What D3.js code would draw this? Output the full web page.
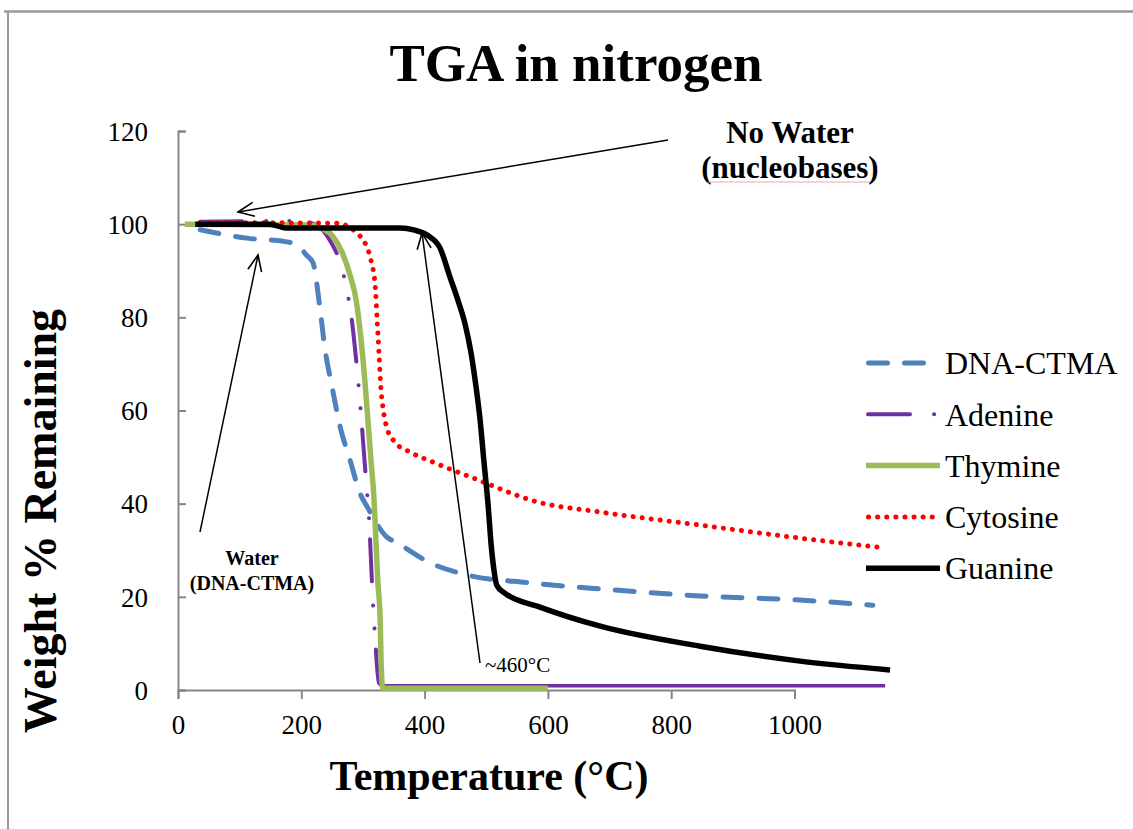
<!DOCTYPE html>
<head>
    <meta charset='utf-8'>
    <title>TGA in nitrogen</title>
    <script src='https://d3js.org/d3.v7.min.js'></script>
    <style>
        html, body {
            margin: 0px;
            padding: 0px;
            background: white;
        }
        svg text {
            font-family: 'Liberation Serif', 'Times New Roman', serif;
        }
    </style>
</head>

<body>
    <div id='chart'></div>

    <script>
        // temperature (°C) / weight % pairs
        var dnaT = [36, 112, 177, 198, 208, 219, 230, 238, 250, 263, 279, 295, 307, 339, 355, 409, 469, 571, 685, 847, 1009, 1127];
        var dnaW = [98.8, 97.0, 96.2, 95.0, 93.4, 91.7, 82.2, 73.6, 65.0, 56.5, 49.4, 42.3, 39.3, 32.8, 31.6, 27.3, 24.7, 23.0, 21.7, 20.2, 19.3, 18.2];

        var adeT = [36, 198, 227, 246, 263, 274, 282, 289, 295, 300, 305, 310, 313, 316, 320, 323, 326, 332, 1147];
        var adeW = [100.5, 100.7, 99.6, 96.6, 91.7, 85.9, 79.4, 70.8, 62.3, 53.7, 45.1, 36.5, 27.9, 19.3, 10.7, 4.7, 1.5, 0.9, 0.9];

        var thyT = [11, 214, 234, 251, 266, 279, 289, 297, 303, 308, 313, 318, 321, 324, 328, 329, 332, 600];
        var thyW = [100.0, 99.8, 99.1, 97.4, 94.0, 89.1, 83.7, 75.1, 66.6, 58.0, 49.4, 40.8, 32.2, 23.6, 15.0, 8.6, 0.4, 0.4];

        var cytT = [36, 96, 258, 282, 295, 305, 313, 320, 323, 326, 329, 333, 339, 352, 376, 414, 479, 582, 685, 847, 1009, 1147];
        var cytW = [100.3, 100.3, 100.2, 99.0, 97.5, 95.5, 92.3, 86.5, 79.4, 72.3, 65.0, 60.1, 56.2, 53.2, 51.1, 48.9, 45.5, 40.4, 38.2, 35.4, 32.6, 30.5];

        var guaT = [28, 149, 174, 360, 384, 406, 425, 441, 454, 466, 475, 483, 490, 496, 503, 508, 513, 517, 530, 587, 685, 847, 1009, 1155];
        var guaW = [100.0, 100.0, 99.2, 99.2, 98.7, 97.5, 94.9, 88.7, 83.7, 78.4, 72.6, 65.5, 58.0, 49.4, 39.7, 31.1, 25.3, 22.5, 20.8, 17.8, 13.7, 9.4, 6.2, 4.3];

        var seriesNames = ['DNA-CTMA', 'Adenine', 'Thymine', 'Cytosine', 'Guanine'];
        var xTicks = [0, 200, 400, 600, 800, 1000];
        var yTicks = [0, 20, 40, 60, 80, 100, 120];

        var styles = {
            'DNA-CTMA': {color: '#4F81BD', width: 5, dash: '19,17', cap: 'round'},
            'Adenine':  {color: '#7030A0', width: 4, dash: '42,24,0.1,23,0.1,21', cap: 'round'},
            'Thymine':  {color: '#9BBB59', width: 5.5, dash: null, cap: 'butt'},
            'Cytosine': {color: '#FF0000', width: 5, dash: '0.1,9', cap: 'round'},
            'Guanine':  {color: '#000000', width: 5.5, dash: null, cap: 'butt'}
        };

        var series = [
            {name: seriesNames[0], t: dnaT, w: dnaW},
            {name: seriesNames[1], t: adeT, w: adeW},
            {name: seriesNames[2], t: thyT, w: thyW},
            {name: seriesNames[3], t: cytT, w: cytW},
            {name: seriesNames[4], t: guaT, w: guaW}
        ];

        var W = 1133, H = 829;
        var svg = d3.select('#chart').append('svg')
            .attr('width', W)
            .attr('height', H);

        // outer frame (only top and left edges are in view)
        svg.append('line').attr('x1', 4).attr('y1', 11.5).attr('x2', W).attr('y2', 11.5)
            .attr('stroke', '#999').attr('stroke-width', 2.5);
        svg.append('line').attr('x1', 8).attr('y1', 11).attr('x2', 8).attr('y2', H)
            .attr('stroke', '#999').attr('stroke-width', 2);

        var x = d3.scaleLinear().domain([0, 1000]).range([178, 794.5]);
        var y = d3.scaleLinear().domain([0, 120]).range([690, 131]);

        // axes
        var xAxis = svg.append('g')
            .attr('transform', 'translate(0,690)')
            .call(d3.axisBottom(x).tickValues(xTicks).tickSize(9).tickPadding(15).tickFormat(d3.format('d')));
        var yAxis = svg.append('g')
            .attr('transform', 'translate(178,0)')
            .call(d3.axisLeft(y).tickValues(yTicks).tickSize(-8).tickPadding(30).tickFormat(d3.format('d')));

        [xAxis, yAxis].forEach(function(g) {
            g.select('.domain').attr('stroke', '#868686').attr('stroke-width', 2);
            g.selectAll('.tick line').attr('stroke', '#868686').attr('stroke-width', 2);
            g.selectAll('.tick text')
                .attr('fill', '#000')
                .style('font-family', "'Liberation Serif', serif")
                .style('font-size', '27px');
        });
        xAxis.selectAll('.tick text').attr('dy', '0.75em');
        yAxis.selectAll('.tick text').attr('dy', '0.34em');

        // curves
        var line = d3.line()
            .x(function(d) { return x(d[0]); })
            .y(function(d) { return y(d[1]); })
            .curve(d3.curveMonotoneX);

        function pts(s) { return d3.zip(s.t, s.w); }

        svg.selectAll('path.series')
            .data(series)
            .enter()
            .append('path')
            .attr('class', 'series')
            .attr('fill', 'none')
            .attr('d', function(s) {
                var p = pts(s);
                // adenine: the flat residue tail is drawn solid below
                if (s.name === 'Adenine') p = p.slice(0, p.length - 1);
                return line(p);
            })
            .attr('stroke', function(s) { return styles[s.name].color; })
            .attr('stroke-width', function(s) { return styles[s.name].width; })
            .attr('stroke-dasharray', function(s) { return styles[s.name].dash; })
            .attr('stroke-linecap', function(s) { return styles[s.name].cap; })
            .attr('stroke-linejoin', 'round');

        // adenine residue tail (looks solid in the picture)
        svg.insert('path', 'path.series:nth-of-type(3)')
            .attr('fill', 'none')
            .attr('d', d3.line()
                .x(function(d) { return x(d[0]); })
                .y(function(d) { return y(d[1]); })(pts(series[1]).slice(-2)))
            .attr('stroke', styles['Adenine'].color)
            .attr('stroke-width', 3.5);

        // title and axis titles
        svg.append('text')
            .attr('x', 576).attr('y', 81)
            .attr('text-anchor', 'middle')
            .style('font-size', '53px').style('font-weight', 'bold')
            .text('TGA in nitrogen');

        svg.append('text')
            .attr('x', 489).attr('y', 790)
            .attr('text-anchor', 'middle')
            .style('font-size', '42px').style('font-weight', 'bold')
            .text('Temperature (°C)');

        svg.append('text')
            .attr('transform', 'translate(56,521) rotate(-90)')
            .attr('text-anchor', 'middle')
            .style('font-size', '46px').style('font-weight', 'bold')
            .text('Weight % Remaining');

        // legend
        var legend = svg.append('g');
        series.forEach(function(s, i) {
            var ly = 363 + i * 51.3;
            var st = styles[s.name];
            legend.append('line')
                .attr('x1', 866 + (st.cap === 'round' ? st.width / 2 : 0))
                .attr('x2', st.cap === 'round' ? 937 : 940)
                .attr('y1', ly).attr('y2', ly)
                .attr('stroke', st.color)
                .attr('stroke-width', st.width)
                .attr('stroke-dasharray', st.dash)
                .attr('stroke-linecap', st.cap);
            legend.append('text')
                .attr('x', 945).attr('y', ly)
                .attr('dy', '0.35em')
                .style('font-size', '32px')
                .text(s.name);
        });

        // annotations
        svg.append('defs').append('marker')
            .attr('id', 'arrow')
            .attr('viewBox', '0 0 20 20')
            .attr('refX', 18).attr('refY', 10)
            .attr('markerWidth', 20).attr('markerHeight', 20)
            .attr('markerUnits', 'userSpaceOnUse')
            .attr('orient', 'auto')
            .append('path')
            .attr('d', 'M2,3 L18,10 L2,17')
            .attr('fill', 'none')
            .attr('stroke', '#000')
            .attr('stroke-width', 1.6);

        function arrow(x1, y1, x2, y2) {
            svg.append('line')
                .attr('x1', x1).attr('y1', y1).attr('x2', x2).attr('y2', y2)
                .attr('stroke', '#000').attr('stroke-width', 1.5)
                .attr('marker-end', 'url(#arrow)');
        }

        arrow(668, 140, 238, 212);
        arrow(200, 532, 258, 255);
        arrow(480, 663, 422, 233);

        svg.append('text')
            .attr('x', 790).attr('y', 143)
            .attr('text-anchor', 'middle')
            .style('font-size', '31px').style('font-weight', 'bold')
            .text('No Water');
        svg.append('text')
            .attr('x', 790).attr('y', 178)
            .attr('text-anchor', 'middle')
            .style('font-size', '31px').style('font-weight', 'bold')
            .text('(nucleobases)');
        // spell-check squiggle under "nucleobases"
        svg.append('line')
            .attr('x1', 708).attr('x2', 870).attr('y1', 182).attr('y2', 182)
            .attr('stroke', '#f4a6a6').attr('stroke-width', 1.2);

        svg.append('text')
            .attr('x', 252).attr('y', 565)
            .attr('text-anchor', 'middle')
            .style('font-size', '20px').style('font-weight', 'bold')
            .text('Water');
        svg.append('text')
            .attr('x', 252).attr('y', 590)
            .attr('text-anchor', 'middle')
            .style('font-size', '20px').style('font-weight', 'bold')
            .text('(DNA-CTMA)');

        svg.append('text')
            .attr('x', 485).attr('y', 672)
            .style('font-size', '21px')
            .text('~460°C');
    </script>
</body>
